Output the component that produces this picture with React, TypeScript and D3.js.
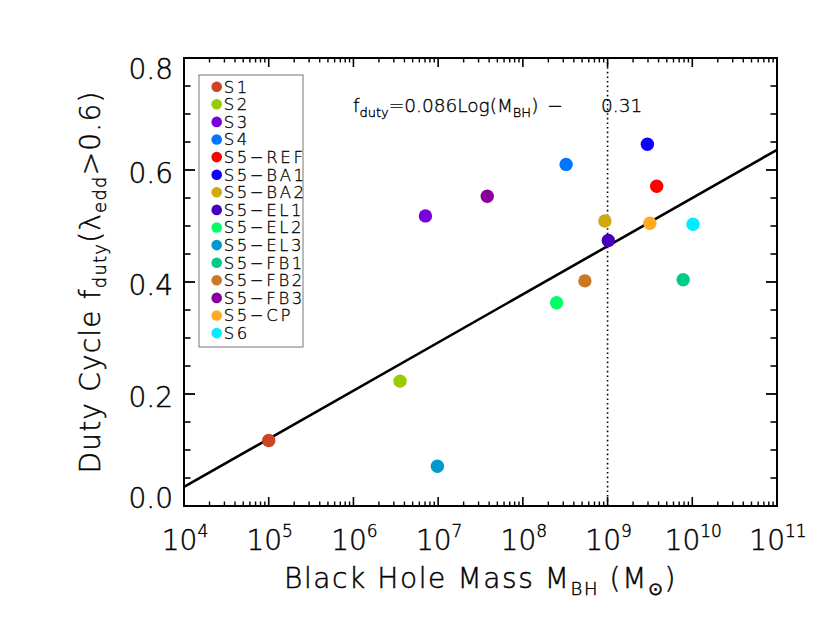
import React from "react";
import * as d3 from "d3";

// simulation runs
const runs = ["S1", "S2", "S3", "S4", "S5-REF", "S5-BA1", "S5-BA2", "S5-EL1", "S5-EL2", "S5-EL3", "S5-FB1", "S5-FB2", "S5-FB3", "S5-CP", "S6"];
const massBH = [1e5, 3.55e6, 7.08e6, 3.24e8, 3.8e9, 2.95e9, 9.3e8, 1.02e9, 2.5e8, 9.8e6, 7.8e9, 5.4e8, 3.8e7, 3.16e9, 1.02e10];
const dutyCycle = [0.117, 0.223, 0.518, 0.61, 0.571, 0.646, 0.509, 0.474, 0.363, 0.071, 0.404, 0.402, 0.553, 0.505, 0.503];
const runColors = ["#cc4422", "#99cc00", "#7700dd", "#0077ff", "#ff0000", "#1100ff", "#ccaa11", "#4400bb", "#00ff66", "#0099cc", "#00cc88", "#cc7722", "#880099", "#ffaa22", "#00eeff"];

const xTickExponents = [4, 5, 6, 7, 8, 9, 10, 11];
const yTickValues = [0, 0.2, 0.4, 0.6, 0.8];

// fit: f = 0.086 log(M) - 0.31
const fitSlope = 0.086;
const fitIntercept = -0.31;
const markerMass = 1e9;

const W = 830;
const H = 624;
const margin = { top: 58, right: 53, bottom: 118, left: 184 };
const FONT = "'DejaVu Sans', sans-serif";

// thin IDL-like lettering: extra light face with a hairline stroke
const txt = { fontWeight: 200, stroke: "#000", strokeWidth: 0.45 } as const;

export default function App() {
  const x = d3.scaleLog().domain([1e4, 1e11]).range([margin.left, W - margin.right]);
  const y = d3.scaleLinear().domain([0, 0.8]).range([H - margin.bottom, margin.top]);
  const [x0, x1] = x.range();
  const [yb, yt] = y.range();

  // log minor ticks
  const minorX: number[] = [];
  for (let e = 4; e < 11; e++) for (let m = 2; m <= 9; m++) minorX.push(m * Math.pow(10, e));
  const minorY = d3.range(0, 0.8001, 0.05).filter((v) => Math.abs(Math.round(v / 0.2) * 0.2 - v) > 1e-6);

  const fitLine = d3
    .line<number>()
    .x((m) => x(m))
    .y((m) => y(fitSlope * Math.log10(m) + fitIntercept));

  const legendX = 199;
  const legendY = 75;
  const legendRow = 17.6;

  return (
    <svg width={W} height={H} style={{ position: "absolute", left: 0, top: 0, background: "#fff" }} fontFamily={FONT}>
      {/* dotted marker at 1e9 */}
      <line x1={x(markerMass)} x2={x(markerMass)} y1={yt} y2={yb} stroke="#000" strokeWidth={1.6} strokeDasharray="1.6,3" />

      {/* fit line */}
      <path d={fitLine(x.domain()) || ""} fill="none" stroke="#000" strokeWidth={2.6} />

      {/* points */}
      {runs.map((r, i) => (
        <circle key={r} cx={x(massBH[i])} cy={y(dutyCycle[i])} r={6.7} fill={runColors[i]} />
      ))}

      {/* ticks */}
      {xTickExponents.map((e) => {
        const px = x(Math.pow(10, e));
        return (
          <g key={"xt" + e}>
            <line x1={px} x2={px} y1={yb} y2={yb - 9} stroke="#000" strokeWidth={1.6} />
            <line x1={px} x2={px} y1={yt} y2={yt + 9} stroke="#000" strokeWidth={1.6} />
          </g>
        );
      })}
      {minorX.map((m, i) => (
        <g key={"xm" + i}>
          <line x1={x(m)} x2={x(m)} y1={yb} y2={yb - 4.5} stroke="#000" strokeWidth={1.4} />
          <line x1={x(m)} x2={x(m)} y1={yt} y2={yt + 4.5} stroke="#000" strokeWidth={1.4} />
        </g>
      ))}
      {yTickValues.map((v) => (
        <g key={"yt" + v}>
          <line x1={x0} x2={x0 + 11} y1={y(v)} y2={y(v)} stroke="#000" strokeWidth={1.8} />
          <line x1={x1} x2={x1 - 11} y1={y(v)} y2={y(v)} stroke="#000" strokeWidth={1.8} />
        </g>
      ))}
      {minorY.map((v, i) => (
        <g key={"ym" + i}>
          <line x1={x0} x2={x0 + 6.5} y1={y(v)} y2={y(v)} stroke="#000" strokeWidth={1.6} />
          <line x1={x1} x2={x1 - 6.5} y1={y(v)} y2={y(v)} stroke="#000" strokeWidth={1.6} />
        </g>
      ))}

      {/* frame */}
      <rect x={x0} y={yt} width={x1 - x0} height={yb - yt} fill="none" stroke="#000" strokeWidth={2} />

      {/* y tick labels */}
      {yTickValues.map((v) => (
        <text key={"yl" + v} x={x0 - 11} y={Math.min(Math.max(y(v) + 12.5, yt + 21), yb + 2)} textAnchor="end" fontSize={28} {...txt}>
          {v.toFixed(1)}
        </text>
      ))}

      {/* x tick labels */}
      {xTickExponents.map((e) => (
        <text key={"xl" + e} x={x(Math.pow(10, e)) + 1} y={550} textAnchor="middle" fontSize={28} {...txt}>
          <tspan>10</tspan>
          <tspan dy={-13.3} fontSize={17}>{e}</tspan>
        </text>
      ))}

      {/* axis titles */}
      <text x={(x0 + x1) / 2} y={588} textAnchor="middle" fontSize={28} letterSpacing={1.6} {...txt}>
        <tspan>Black Hole Mass M</tspan>
        <tspan dy={7} fontSize={18}>BH</tspan>
        <tspan dy={-7}> (M</tspan>
        <tspan dy={7} fontSize={18}>⊙</tspan>
        <tspan dy={-7}>)</tspan>
      </text>
      <text transform={`translate(100,${(yt + yb) / 2}) rotate(-90)`} textAnchor="middle" fontSize={28} letterSpacing={1.2} {...txt}>
        <tspan>Duty Cycle f</tspan>
        <tspan dy={6} fontSize={18}>duty</tspan>
        <tspan dy={-6}>(λ</tspan>
        <tspan dy={6} fontSize={18}>edd</tspan>
        <tspan dy={-6}>&gt;0.6)</tspan>
      </text>

      {/* fit formula */}
      <text x={353} y={111.7} fontSize={18.5} {...txt} strokeWidth={0.35}>
        <tspan>f</tspan>
        <tspan dy={5} fontSize={13}>duty</tspan>
        <tspan dy={-5}>=0.086Log(M</tspan>
        <tspan dy={5} fontSize={13}>BH</tspan>
        <tspan dy={-5}>)</tspan>
      </text>
      <text x={555} y={111.7} fontSize={18.5} textAnchor="middle" {...txt} strokeWidth={0.35}>−</text>
      <text x={601} y={111.7} fontSize={18.5} {...txt} strokeWidth={0.35}>{Math.abs(fitIntercept).toFixed(2)}</text>

      {/* legend */}
      <rect x={legendX} y={legendY} width={104} height={272} fill="#fff" stroke="#777" strokeWidth={1} />
      {runs.map((r, i) => (
        <g key={"lg" + r} transform={`translate(${legendX + 17.7},${legendY + 11.7 + i * legendRow})`}>
          <circle r={5.3} fill={runColors[i]} />
          <text x={7} y={5.8} fontSize={16.5} letterSpacing={2.6} {...txt} strokeWidth={0.3}>
            {r.replace("-", "−")}
          </text>
        </g>
      ))}
    </svg>
  );
}
